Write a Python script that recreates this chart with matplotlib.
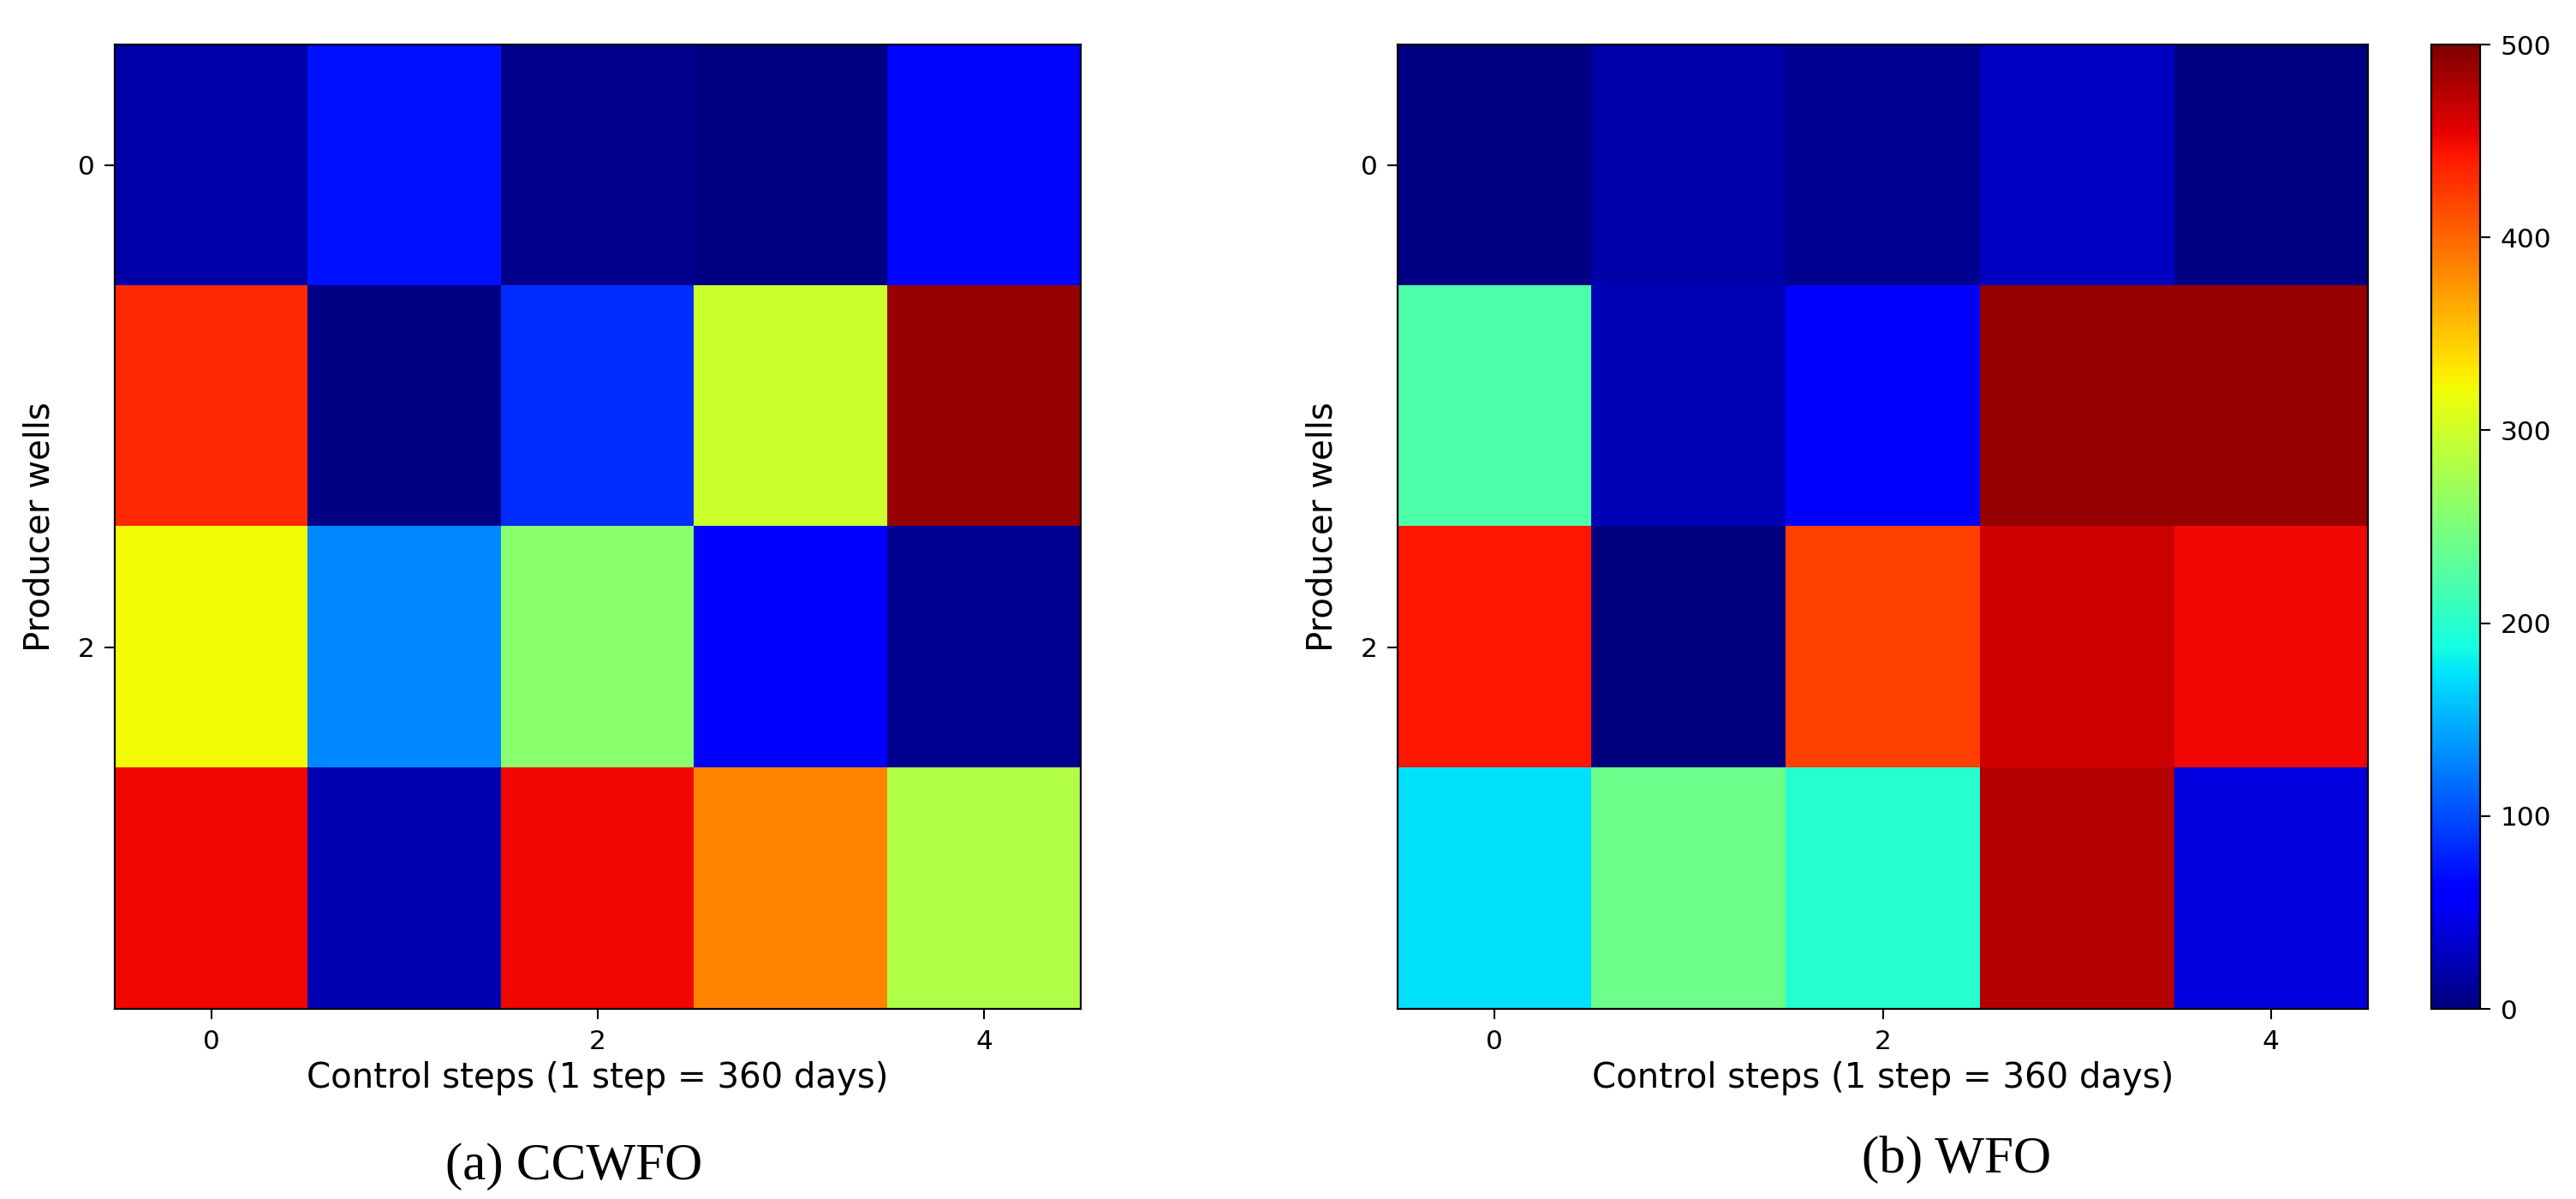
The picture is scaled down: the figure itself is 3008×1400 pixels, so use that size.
import numpy as np
import matplotlib.pyplot as plt

# 1. datos (pozos x pasos de control)
steps = [0, 1, 2, 3, 4]
wells = [0, 1, 2, 3]
x_ticks = [0, 2, 4]
y_ticks = [0, 2]
cbar_ticks = [0, 100, 200, 300, 400, 500]

ccwfo = [
    [19, 72, 6, 2, 65],
    [432, 2, 85, 298, 490],
    [322, 130, 258, 62, 8],
    [450, 22, 450, 383, 283],
]
wfo = [
    [2, 18, 9, 31, 3],
    [222, 25, 63, 490, 490],
    [442, 1, 421, 465, 450],
    [172, 242, 198, 476, 42],
]

captions = ['(a) CCWFO', '(b) WFO']
caption_x = [670, 2285]   # centro en px
caption_y = [1377, 1369]  # linea base en px
x_label = 'Control steps (1 step = 360 days)'
y_label = 'Producer wells'

# 2. figura
W, H = 3008, 1400
fig = plt.figure(figsize=(W / 100, H / 100), dpi=100)

def px_axes(x0, y0, x1, y1):
    return fig.add_axes([x0 / W, 1 - y1 / H, (x1 - x0) / W, (y1 - y0) / H])

ax1 = px_axes(134, 52, 1262, 1178)
ax2 = px_axes(1632, 52, 2765, 1178)
cax = px_axes(2839, 52, 2896, 1178)

for ax, data, cap, cx, cy in zip([ax1, ax2], [ccwfo, wfo], captions, caption_x, caption_y):
    im = ax.imshow(np.array(data), cmap='jet', vmin=0, vmax=500, aspect='auto',
                   interpolation='nearest')
    ax.set_xticks(x_ticks)
    ax.set_yticks(y_ticks)
    ax.tick_params(labelsize=22.5, length=8.5, width=1.5, pad=8.5)
    ax.set_xlabel(x_label, fontsize=29, labelpad=6)
    ax.set_ylabel(y_label, fontsize=29, labelpad=17)
    for s in ax.spines.values():
        s.set_linewidth(1.6)
    fig.text(cx / W, 1 - cy / H, cap,
             family='Liberation Serif', fontsize=44, ha='center', va='baseline')

cb = fig.colorbar(im, cax=cax, ticks=cbar_ticks)
cb.ax.tick_params(labelsize=22.5, length=8.5, width=1.5, pad=8.5)
cb.outline.set_linewidth(1.6)

fig.savefig('out.png', dpi=100)
